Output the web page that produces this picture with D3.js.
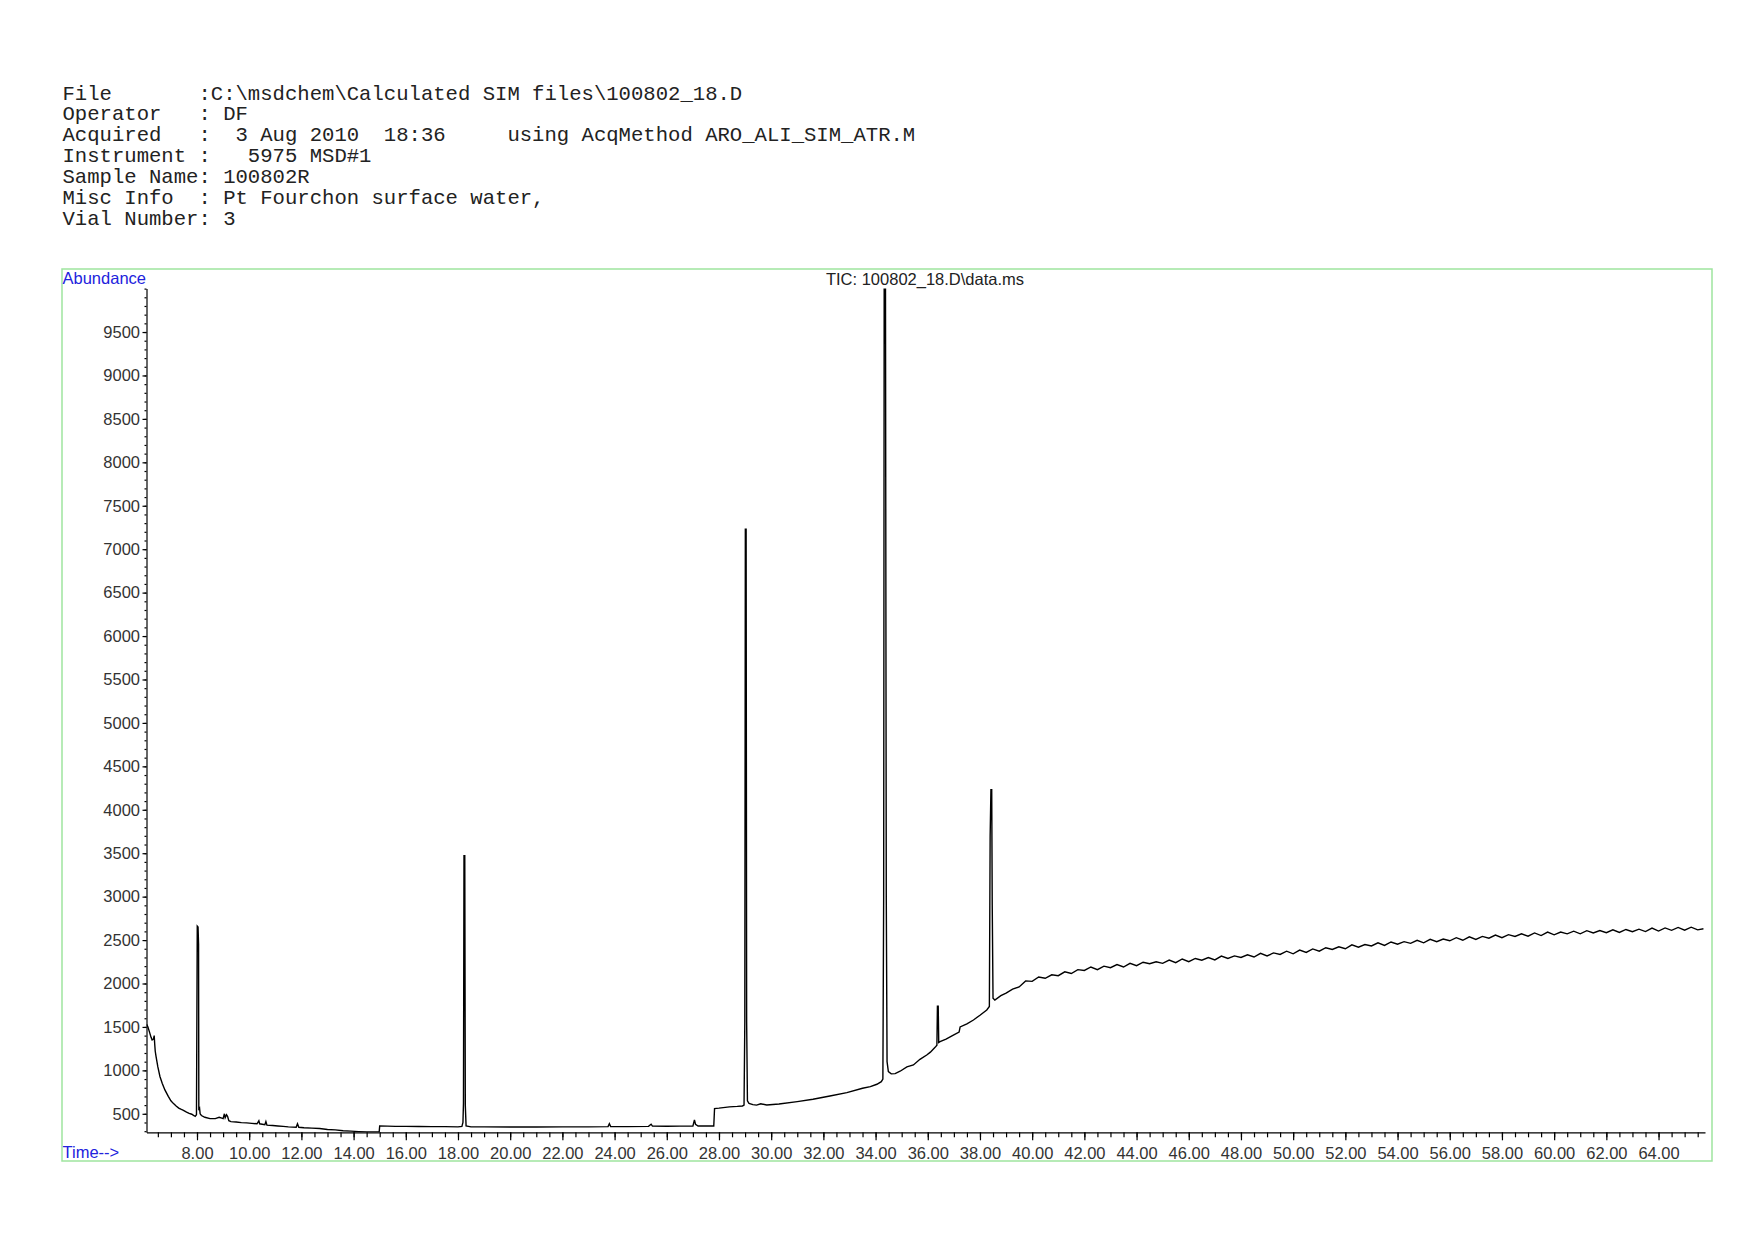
<!DOCTYPE html>
<html>
<head>
<meta charset="utf-8">
<script src="https://cdn.jsdelivr.net/npm/d3@7"></script>
<style>
  body { margin: 0; background: #fff; }
  svg { display: block; }
</style>
</head>
<body>
<div id="chart"></div>
<script>
// header lines of the report
var headerLines = [
  "File       :C:\\msdchem\\Calculated SIM files\\100802_18.D",
  "Operator   : DF",
  "Acquired   :  3 Aug 2010  18:36     using AcqMethod ARO_ALI_SIM_ATR.M",
  "Instrument :   5975 MSD#1",
  "Sample Name: 100802R",
  "Misc Info  : Pt Fourchon surface water,",
  "Vial Number: 3"
];
var plotTitle = "TIC: 100802_18.D\\data.ms";

// retention time (min), up to the big peaks
var rt = [
  6.07, 6.12, 6.18, 6.24, 6.28, 6.33, 6.36, 6.38, 6.40, 6.43, 6.50, 6.58, 6.67, 6.77, 6.90, 7.00,
  7.09, 7.20, 7.30, 7.40, 7.48, 7.60, 7.70, 7.80, 7.88, 7.93, 7.98, 8.01, 8.04, 8.06, 8.07, 8.10,
  8.12, 8.17, 8.30, 8.50, 8.70, 8.85, 8.95, 9.00, 9.05, 9.08, 9.13, 9.17, 9.22, 9.30, 9.50, 9.70,
  9.90, 10.10, 10.30, 10.37, 10.40, 10.60, 10.64, 10.68, 10.90, 11.10, 11.30, 11.50, 11.80, 11.85,
  11.90, 12.10, 12.40, 12.70, 13.00, 13.30, 13.60, 13.90, 14.20, 14.50, 14.80, 14.98, 15.00, 15.30,
  15.60, 16.00, 16.50, 17.00, 17.50, 18.00, 18.15, 18.19, 18.21, 18.23, 18.26, 18.28, 18.31, 18.50,
  19.00, 20.00, 21.00, 22.00, 23.00, 23.75, 23.80, 23.85, 24.50, 25.30, 25.40, 25.45, 26.00, 26.50,
  27.00, 27.06, 27.10, 27.20, 27.50, 27.80, 27.83, 28.00, 28.40, 28.70, 28.90, 28.96, 28.99, 29.01,
  29.04, 29.06, 29.09, 29.15, 29.30, 29.44, 29.60, 29.83, 30.30, 31.00, 31.60, 32.25, 32.90, 33.50,
  33.80, 34.05, 34.22, 34.28, 34.31, 34.33, 34.38, 34.41, 34.44, 34.49, 34.60, 34.75, 34.94, 35.20,
  35.45, 35.70, 35.96, 36.10, 36.28, 36.35, 36.37, 36.40, 36.42, 36.47, 36.70, 36.98, 37.20, 37.24,
  37.50, 37.75, 38.00, 38.26, 38.36, 38.39, 38.42, 38.45, 38.47, 38.50, 38.57, 38.80
];

// abundance at each retention time above
var abundance = [
  1530, 1500, 1440, 1380, 1350, 1360, 1400, 1300, 1220, 1160, 1040, 930, 850, 775, 700, 650,
  620, 590, 565, 550, 540, 520, 505, 495, 480, 470, 490, 2660, 2650, 2450, 540, 560,
  500, 480, 460, 445, 445, 460, 450, 445, 500, 455, 490, 470, 420, 410, 405, 398,
  395, 390, 385, 420, 385, 375, 410, 370, 365, 360, 355, 350, 345, 385,
  345, 340, 335, 330, 320, 315, 305, 300, 295, 292, 290, 290, 360, 358,
  355, 355, 353, 352, 352, 350, 355, 400, 620, 3470, 3470, 600, 360, 350,
  350, 348, 348, 350, 350, 352, 385, 352, 352, 355, 380, 358, 357, 358,
  358, 430, 380, 360, 360, 360, 560, 565, 580, 585, 590, 600, 1560, 7230,
  7230, 1560, 650, 620, 605, 600, 615, 602, 613, 640, 667, 705, 743, 794,
  812, 840, 870, 900, 3000, 10000, 10000, 3000, 1100, 985, 960, 962, 990, 1040,
  1062, 1127, 1177, 1210, 1265, 1290, 1740, 1740, 1320, 1330, 1360, 1405, 1440, 1500,
  1535, 1580, 1635, 1695, 1735, 3700, 4230, 4230, 2900, 1830, 1810, 1860
];

// noisy rising tail after the last peak
var tailRt = [
  39.00, 39.25, 39.50, 39.75, 40.00, 40.25, 40.50, 40.75, 41.00, 41.25, 41.50, 41.75, 42.00, 42.25,
  42.50, 42.75, 43.00, 43.25, 43.50, 43.75, 44.00, 44.25, 44.50, 44.75, 45.00, 45.25, 45.50, 45.75,
  46.00, 46.25, 46.50, 46.75, 47.00, 47.25, 47.50, 47.75, 48.00, 48.25, 48.50, 48.75, 49.00, 49.25,
  49.50, 49.75, 50.00, 50.25, 50.50, 50.75, 51.00, 51.25, 51.50, 51.75, 52.00, 52.25, 52.50, 52.75,
  53.00, 53.25, 53.50, 53.75, 54.00, 54.25, 54.50, 54.75, 55.00, 55.25, 55.50, 55.75, 56.00, 56.25,
  56.50, 56.75, 57.00, 57.25, 57.50, 57.75, 58.00, 58.25, 58.50, 58.75, 59.00, 59.25, 59.50, 59.75,
  60.00, 60.25, 60.50, 60.75, 61.00, 61.25, 61.50, 61.75, 62.00, 62.25, 62.50, 62.75, 63.00, 63.25,
  63.50, 63.75, 64.00, 64.25, 64.50, 64.75, 65.00, 65.25, 65.50, 65.72
];
var tailAbundance = [
  1890, 1935, 1960, 2030, 2025, 2075, 2060, 2100, 2090, 2135, 2115, 2160, 2150, 2190,
  2160, 2200, 2182, 2218, 2190, 2232, 2205, 2245, 2228, 2250, 2232, 2270, 2240, 2282,
  2252, 2288, 2268, 2298, 2272, 2315, 2288, 2318, 2300, 2330, 2305, 2348, 2318, 2352,
  2335, 2372, 2342, 2385, 2358, 2398, 2372, 2412, 2392, 2422, 2400, 2445, 2418, 2448,
  2432, 2468, 2438, 2478, 2452, 2482, 2462, 2498, 2468, 2508, 2482, 2512, 2492, 2528,
  2498, 2538, 2508, 2542, 2522, 2558, 2528, 2562, 2542, 2572, 2545, 2582, 2552, 2592,
  2560, 2592, 2572, 2602, 2572, 2608, 2582, 2610, 2585, 2618, 2588, 2622, 2596, 2625,
  2598, 2638, 2604, 2640, 2612, 2645, 2614, 2648, 2618, 2630
];

// axis ticks
var yTicks = [500, 1000, 1500, 2000, 2500, 3000, 3500, 4000, 4500, 5000, 5500, 6000, 6500, 7000, 7500, 8000, 8500, 9000, 9500];
var xTicks = [8, 10, 12, 14, 16, 18, 20, 22, 24, 26, 28, 30, 32, 34, 36, 38, 40, 42, 44, 46, 48, 50, 52, 54, 56, 58, 60, 62, 64];

var width = 1754, height = 1240;
var blue = "#2222dd";
var sansFont = "'Liberation Sans', Arial, sans-serif";

var svg = d3.select("#chart")
  .append("svg")
    .attr("width", width)
    .attr("height", height);

// header block, monospace
svg.append("g")
  .selectAll("text")
  .data(headerLines)
  .enter()
  .append("text")
    .attr("x", 62.5)
    .attr("y", 99 + 0.5)
    .attr("y", function(d, i) { return 99.5 + i * 20.9; })
    .style("white-space", "pre")
    .attr("font-family", "'Liberation Mono', 'Courier New', monospace")
    .attr("font-size", 20.6)
    .attr("fill", "#222")
    .text(function(d) { return d; });

// green frame round the plot
svg.append("rect")
  .attr("x", 62)
  .attr("y", 269)
  .attr("width", 1650)
  .attr("height", 892)
  .attr("fill", "none")
  .attr("stroke", "#9ee59e")
  .attr("stroke-width", 1.5);

var x = d3.scaleLinear()
  .domain([6.065, 65.78])
  .range([146.5, 1705]);

var y = d3.scaleLinear()
  .domain([287, 10000])
  .range([1132.3, 288.6]);

// y axis: minor ticks first, then labelled ones
svg.append("g")
  .attr("transform", "translate(" + x(6.065) + ",0)")
  .call(d3.axisLeft(y).tickValues(d3.range(300, 10001, 100)).tickSize(2).tickFormat(""))
  .call(function(g) { g.select(".domain").remove(); });

var yAxis = svg.append("g")
  .attr("class", "yAxis")
  .attr("transform", "translate(" + x(6.065) + ",0)")
  .call(d3.axisLeft(y).tickValues(yTicks).tickSize(4).tickPadding(2.5).tickSizeOuter(0).tickFormat(d3.format("d")));
yAxis.selectAll("text")
  .attr("font-family", sansFont)
  .attr("font-size", 16.5)
  .attr("fill", "#333");

// x axis: half-minute ticks, labels every 2 min
svg.append("g")
  .attr("transform", "translate(0," + y(287) + ")")
  .call(d3.axisBottom(x).tickValues(d3.range(6.5, 65.6, 0.5)).tickSize(5).tickFormat(""))
  .call(function(g) { g.select(".domain").remove(); });

var xAxis = svg.append("g")
  .attr("class", "xAxis")
  .attr("transform", "translate(0," + y(287) + ")")
  .call(d3.axisBottom(x).tickValues(xTicks).tickSize(8).tickPadding(6.5).tickSizeOuter(0).tickFormat(d3.format(".2f")));
xAxis.selectAll("text")
  .attr("font-family", sansFont)
  .attr("font-size", 16.5)
  .attr("fill", "#333");

svg.selectAll(".domain, .tick line")
  .attr("stroke", "#000")
  .attr("stroke-width", 1.2);

// labels
svg.append("text")
  .attr("x", 62.5)
  .attr("y", 284)
  .attr("font-family", sansFont)
  .attr("font-size", 16.5)
  .attr("fill", blue)
  .text("Abundance");

svg.append("text")
  .attr("x", 62.5)
  .attr("y", 1158)
  .attr("font-family", sansFont)
  .attr("font-size", 16.5)
  .attr("fill", blue)
  .text("Time-->");

svg.append("text")
  .attr("x", 925)
  .attr("y", 285)
  .attr("text-anchor", "middle")
  .attr("font-family", sansFont)
  .attr("font-size", 16.5)
  .attr("fill", "#222")
  .text(plotTitle);

// the trace
svg.append("clipPath")
  .attr("id", "plotclip")
  .append("rect")
    .attr("x", x(6.065))
    .attr("y", y(10000))
    .attr("width", x(65.78) - x(6.065))
    .attr("height", y(287) - y(10000));

var trace = rt.concat(tailRt).map(function(t, i) {
  return { t: t, v: abundance.concat(tailAbundance)[i] };
});

svg.append("path")
  .datum(trace)
  .attr("clip-path", "url(#plotclip)")
  .attr("fill", "none")
  .attr("stroke", "#000")
  .attr("stroke-width", 1.4)
  .attr("stroke-linejoin", "miter")
  .attr("d", d3.line()
    .x(function(d) { return x(d.t); })
    .y(function(d) { return y(d.v); })
  );
</script>
</body>
</html>
